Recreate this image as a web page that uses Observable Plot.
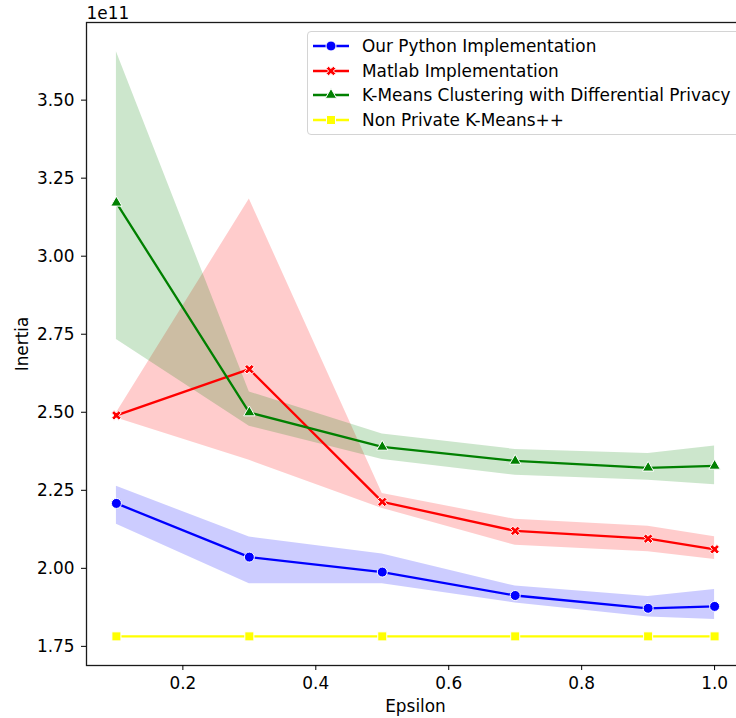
<!DOCTYPE html>
<html>
<head>
<meta charset="utf-8">
<script src="https://cdn.jsdelivr.net/npm/d3@7"></script>
<script src="https://cdn.jsdelivr.net/npm/@observablehq/plot@0.6"></script>
<style>
  body { margin: 0; background: #fff; font-family: "DejaVu Sans", sans-serif; }
  #wrap { position: relative; width: 736px; height: 718px; overflow: hidden; }
  .legend {
    position: absolute; left: 307px; top: 31px; width: 440px; box-sizing: border-box;
    padding: 2px 0 2px 5px; border: 1px solid #d4d4d4; border-radius: 4px;
    background: rgba(255,255,255,0.8); font-size: 16.9px; color: #000;
  }
  .row { height: 24.6px; display: flex; align-items: center; white-space: nowrap; }
  .row svg { margin-right: 13px; flex: none; }
</style>
</head>
<body>
<div id="wrap"></div>
<script>
// Privacy budget values on the x axis
const epsilon = [0.1, 0.3, 0.5, 0.7, 0.9, 1.0];

// Series labels and colours
const seriesNames = [
  "Our Python Implementation",
  "Matlab Implementation",
  "K-Means Clustering with Differential Privacy",
  "Non Private K-Means++"
];
const seriesColors = ["blue", "red", "green", "yellow"];

// Mean inertia (in units of 1e11) and the lower / upper edges of each confidence band
const pythonMean = [2.208, 2.036, 1.988, 1.913, 1.872, 1.878];
const pythonLow  = [2.141, 1.951, 1.951, 1.889, 1.844, 1.836];
const pythonHigh = [2.263, 2.100, 2.046, 1.943, 1.910, 1.932];

const matlabMean = [2.490, 2.638, 2.213, 2.120, 2.095, 2.061];
const matlabLow  = [2.482, 2.346, 2.192, 2.074, 2.053, 2.028];
const matlabHigh = [2.498, 3.183, 2.240, 2.157, 2.135, 2.101];

const dpMean = [3.171, 2.499, 2.389, 2.344, 2.322, 2.328];
const dpLow  = [2.733, 2.455, 2.349, 2.298, 2.282, 2.268];
const dpHigh = [3.655, 2.565, 2.430, 2.381, 2.368, 2.392];

const kppMean = [1.782, 1.782, 1.782, 1.782, 1.782, 1.782];
const kppLow  = [1.782, 1.782, 1.782, 1.782, 1.782, 1.782];
const kppHigh = [1.782, 1.782, 1.782, 1.782, 1.782, 1.782];

// Axis ticks
const xTicks = [0.2, 0.4, 0.6, 0.8, 1.0];
const yTicks = [1.75, 2.00, 2.25, 2.50, 2.75, 3.00, 3.25, 3.50];
const SCALE = 1e11;

// Filled "X" marker with the same footprint logic as Plot's built-in symbols
const filledX = {
  draw(context, size) {
    const r = Math.sqrt(size / Math.PI);
    const a = r * 1.08, w = r * 0.36;
    const pts = [[w,a],[w,w],[a,w],[a,-w],[w,-w],[w,-a],[-w,-a],[-w,-w],[-a,-w],[-a,w],[-w,w],[-w,a]]
      .map(([x, y]) => [(x - y) / Math.SQRT2, (x + y) / Math.SQRT2]);
    context.moveTo(pts[0][0], pts[0][1]);
    for (let i = 1; i < pts.length; ++i) context.lineTo(pts[i][0], pts[i][1]);
    context.closePath();
  }
};

const seriesSymbols = ["circle", filledX, "triangle", "square"];
const seriesRadius = [5.0, 4.7, 4.2, 5.1];

const means = [pythonMean, matlabMean, dpMean, kppMean];
const lows = [pythonLow, matlabLow, dpLow, kppLow];
const highs = [pythonHigh, matlabHigh, dpHigh, kppHigh];

const tables = seriesNames.map((name, s) =>
  epsilon.map((e, i) => ({
    series: name,
    eps: e,
    mean: means[s][i] * SCALE,
    lo: lows[s][i] * SCALE,
    hi: highs[s][i] * SCALE
  }))
);

const bands = tables.map((t, s) =>
  Plot.areaY(t, {x: "eps", y1: "lo", y2: "hi", fill: seriesColors[s], fillOpacity: 0.2}));

const linesAndDots = tables.flatMap((t, s) => [
  Plot.line(t, {x: "eps", y: "mean", stroke: seriesColors[s], strokeWidth: 2.3}),
  Plot.dot(t, {x: "eps", y: "mean", fill: seriesColors[s], stroke: "white", strokeWidth: 1,
               symbol: seriesSymbols[s], r: seriesRadius[s]})
]);

const chart = Plot.plot({
  width: 736,
  height: 718,
  marginLeft: 86,
  marginRight: -8,
  marginTop: 22,
  marginBottom: 53,
  style: {fontFamily: "DejaVu Sans", fontSize: "16.9px", color: "black", background: "white"},
  x: {domain: [0.055, 1.045]},
  y: {domain: [1.6887 * SCALE, 3.7487 * SCALE]},
  marks: [
    ...bands,
    ...linesAndDots,
    Plot.frame({stroke: "#1a1a1a", strokeWidth: 1.3}),
    Plot.axisX({ticks: xTicks, tickFormat: d => d.toFixed(1), tickSize: 5, tickPadding: 6,
                label: "Epsilon", labelAnchor: "center", labelArrow: "none", labelOffset: 46}),
    Plot.axisY({ticks: yTicks.map(v => v * SCALE), tickFormat: d => (d / SCALE).toFixed(2),
                tickSize: 5, tickPadding: 7,
                label: "Inertia", labelAnchor: "center", labelArrow: "none", labelOffset: 71}),
    Plot.text(["1e11"], {frameAnchor: "top-left", dy: -4, lineAnchor: "bottom", textAnchor: "start"})
  ]
});

const wrap = document.getElementById("wrap");
wrap.appendChild(chart);

// Legend box in the upper right of the plotting area
const legend = document.createElement("div");
legend.className = "legend";
seriesNames.forEach((name, s) => {
  const row = document.createElement("div");
  row.className = "row";
  const sw = d3.create("svg").attr("width", 36).attr("height", 14);
  sw.append("line").attr("x1", 0).attr("x2", 36).attr("y1", 7).attr("y2", 7)
    .attr("stroke", seriesColors[s]).attr("stroke-width", 2.3);
  const sym = typeof seriesSymbols[s] === "string"
    ? {circle: d3.symbolCircle, triangle: d3.symbolTriangle, square: d3.symbolSquare}[seriesSymbols[s]]
    : seriesSymbols[s];
  sw.append("path")
    .attr("transform", "translate(18,7)")
    .attr("d", d3.symbol(sym, Math.PI * seriesRadius[s] ** 2)())
    .attr("fill", seriesColors[s]).attr("stroke", "white").attr("stroke-width", 1);
  row.appendChild(sw.node());
  const label = document.createElement("span");
  label.textContent = name;
  row.appendChild(label);
  legend.appendChild(row);
});
wrap.appendChild(legend);
</script>
</body>
</html>
